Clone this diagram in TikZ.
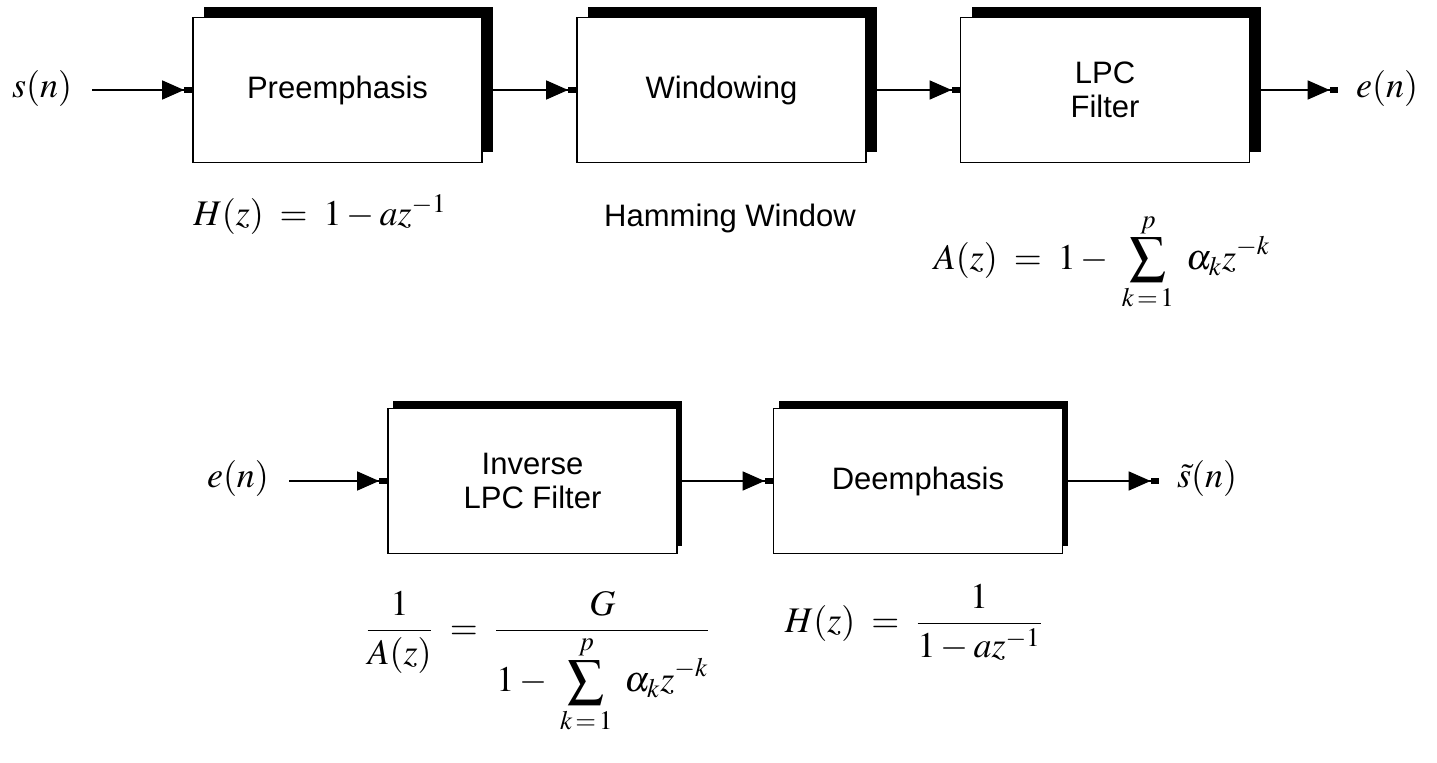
\documentclass[tikz,border=0pt]{standalone}
\usepackage{mathptmx}
\usepackage{fontspec}
\setmainfont{Liberation Serif}
\setsansfont{Liberation Sans}
\usetikzlibrary{arrows.meta,shadows}
\begin{document}
\begin{tikzpicture}[x=0.5pt,y=-0.5pt,
  blk/.style={draw, line width=0.9pt, fill=white, minimum width=144.5pt, minimum height=72.5pt,
    align=center, inner sep=0pt, font=\sffamily\fontsize{15.5}{17}\selectfont},
  topsh/.style={general shadow={fill=black, shadow xshift=5.5pt, shadow yshift=5pt}},
  botsh/.style={general shadow={fill=black, shadow xshift=2.5pt, shadow yshift=3.5pt}},
  arr/.style={line width=0.8pt, -{Triangle[length=11pt,width=9.5pt]Rectangle[length=4pt,width=3pt]}},
  mth/.style={inner sep=0pt, font=\fontsize{18}{21}\selectfont},
  sflab/.style={inner sep=0pt, font=\sffamily\fontsize{15.5}{17}\selectfont}]
\useasboundingbox (0,0) rectangle (1437,763);
% top row
\node[mth] (sn) at (42,89) {$s(n)$};
\node[blk, topsh] (pre) at (337.5,90) {Preemphasis};
\node[blk, topsh] (win) at (721.5,90) {Windowing};
\node[blk, topsh] (lpc) at (1105,90) {LPC\\Filter};
\node[mth] (en) at (1387,89) {$e(n)$};
\draw[arr, shorten <=10pt] (sn.east |- pre.west) -- (pre.west);
\draw[arr] (pre.east) -- (win.west);
\draw[arr] (win.east) -- (lpc.west);
\draw[arr, shorten >=9pt] (lpc.east) -- (en.west |- lpc.east);
\node[mth] (f1) at (320,215) {$H(z)\;=\;1-az^{-1}$};
\node[sflab] (hw) at (730,218) {Hamming Window};
\node[mth] (f2) at (1102,262) {$\displaystyle A(z)\;=\;1-\;\sum_{k\,=\,1}^{p}\;\alpha_k z^{-k}$};
% bottom row
\node[mth] (en2) at (238,479) {$e(n)$};
\node[blk, botsh] (inv) at (532.5,481) {Inverse\\LPC Filter};
\node[blk, botsh] (dee) at (918,481) {Deemphasis};
\node[mth] (st) at (1207,479) {$\tilde{s}(n)$};
\draw[arr, shorten <=10pt] (en2.east |- inv.west) -- (inv.west);
\draw[arr] (inv.east) -- (dee.west);
\draw[arr, shorten >=9pt] (dee.east) -- (st.west |- dee.east);
\node[mth] (f3) at (538,662) {$\displaystyle \frac{1}{A(z)}\;=\;\frac{G}{\displaystyle 1-\;\sum_{k\,=\,1}^{p}\;\alpha_k z^{-k}}$};
\node[mth] (f4) at (914,622) {$\displaystyle H(z)\;=\;\frac{1}{1-az^{-1}}$};
\end{tikzpicture}
\end{document}
